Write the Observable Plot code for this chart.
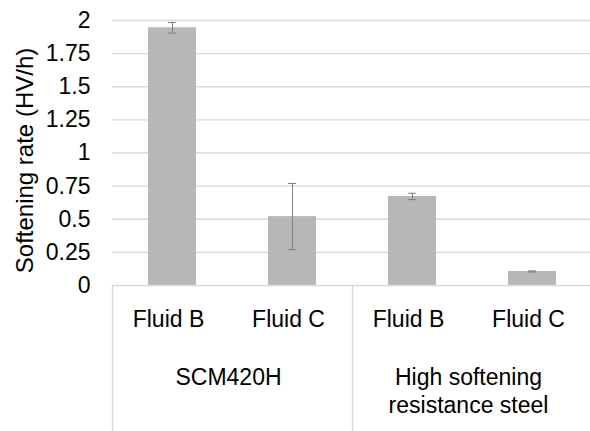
<!DOCTYPE html>
<html><head><meta charset="utf-8">
<script src="https://cdn.jsdelivr.net/npm/d3@7"></script>
<script src="https://cdn.jsdelivr.net/npm/@observablehq/plot@0.6"></script>
<style>
html,body{margin:0;padding:0;background:#fff;}
#chart svg{display:block;font-family:"Liberation Sans",Arial,sans-serif;}
</style></head>
<body><div id="chart"></div>
<script>
const groups = ["SCM420H", "SCM420H", "High softening\nresistance steel", "High softening\nresistance steel"];
const fluids = ["Fluid B", "Fluid C", "Fluid B", "Fluid C"];
const rates = [1.945, 0.52, 0.672, 0.106];
const errors = [0.04, 0.25, 0.024, 0.004];
const yTicks = [0, 0.25, 0.5, 0.75, 1, 1.25, 1.5, 1.75, 2];
const yLabel = "Softening rate (HV/h)";

const data = fluids.map((f, i) => ({key: i, fluid: f, group: groups[i], v: rates[i], lo: rates[i] - errors[i], hi: rates[i] + errors[i]}));
const groupStarts = data.filter((d, i) => i === 0 || groups[i] !== groups[i - 1]);

const W = 590, H = 431, ML = 112, MT = 20, MB = 146;
const band = 120;

const chart = Plot.plot({
  width: W, height: H,
  marginLeft: ML, marginRight: 0, marginTop: MT, marginBottom: MB,
  style: {fontFamily: "Liberation Sans, Arial, sans-serif", color: "#000", background: "#fff"},
  x: {type: "band", domain: data.map(d => d.key), range: [ML, ML + band * data.length], paddingInner: 0.6, paddingOuter: 0.3, align: 0.5},
  y: {domain: [0, 2], ticks: yTicks},
  marks: [
    Plot.gridY(yTicks.slice(1), {stroke: "#d9d9d9", strokeOpacity: 1, strokeWidth: 1.3}),
    Plot.barY(data, {x: "key", y: "v", fill: "#b7b7b7"}),
    Plot.ruleY([0], {stroke: "#d9d9d9", strokeWidth: 1.3}),
    Plot.ruleX(data, {x: "key", y1: "lo", y2: "hi", stroke: "#7f7f7f", strokeWidth: 1}),
    Plot.tickY(data, {x: "key", y: "lo", stroke: "#7f7f7f", strokeWidth: 1, insetLeft: 20, insetRight: 20}),
    Plot.tickY(data, {x: "key", y: "hi", stroke: "#7f7f7f", strokeWidth: 1, insetLeft: 20, insetRight: 20}),
    Plot.axisY({ticks: yTicks, tickSize: 0, tickPadding: 22, tickFormat: d => String(d), fontSize: 23, label: null}),
    Plot.axisX({tickSize: 0, tickPadding: 25, tickFormat: i => fluids[i], fontSize: 23, label: null, dx: -4}),
    Plot.text(groupStarts, {x: "key", y: () => 0, text: "group", dx: band / 2 - 4, dy: 80, lineAnchor: "top", fontSize: 23, lineHeight: 1.2, fill: "#000"})
  ]
});

// category divider lines below the axis, and y-axis title
const xs = chart.scale("x");
const yS = chart.scale("y");
const svg = d3.select(chart);
const y0 = yS.apply(0);
groupStarts.forEach(d => {
  const xx = xs.apply(d.key) - (band - xs.bandwidth) / 2;
  svg.append("line").attr("x1", xx + 0.5).attr("x2", xx + 0.5).attr("y1", y0).attr("y2", H)
    .attr("stroke", "#d9d9d9").attr("stroke-width", 1.3);
});
svg.append("text")
  .attr("transform", `translate(33,${(yS.apply(0) + yS.apply(2)) / 2 + 8}) rotate(-90)`)
  .attr("text-anchor", "middle")
  .attr("font-size", 24)
  .attr("fill", "#000")
  .text(yLabel);
document.getElementById("chart").appendChild(chart);
</script></body></html>
